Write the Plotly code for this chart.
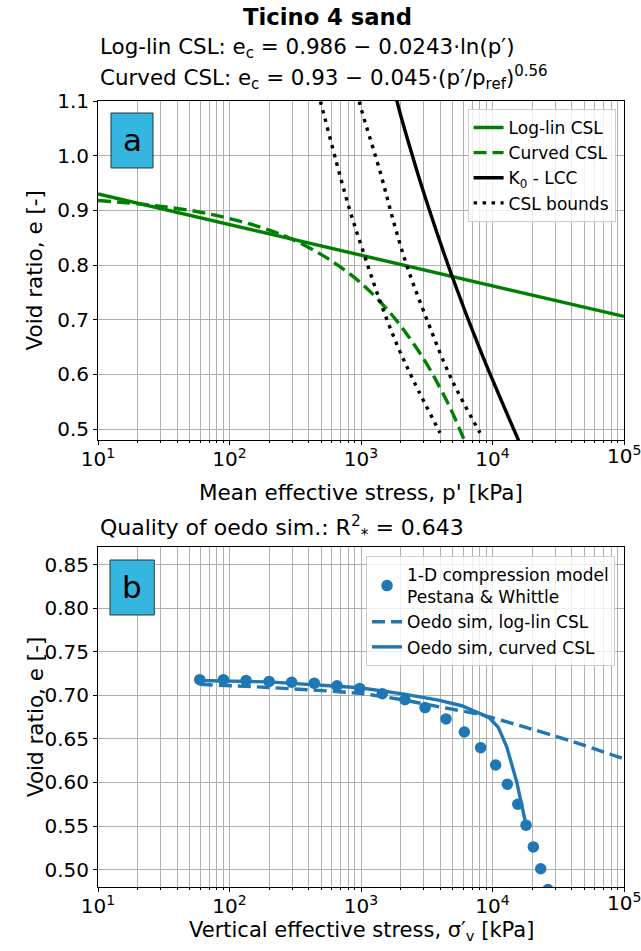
import plotly.graph_objects as go

# ---------------- Panel a data ----------------
p_loglin = [10, 100, 1000, 10000, 100000]
e_loglin = [0.930, 0.874, 0.818, 0.762, 0.706]

p_curved = [10, 20, 50, 100, 200, 300, 500, 700, 1000, 1500, 2000, 3000, 4000, 5000, 6000, 6500]
e_curved = [0.918, 0.912, 0.900, 0.885, 0.864, 0.847, 0.819, 0.796, 0.767, 0.725, 0.689, 0.628,
            0.575, 0.528, 0.484, 0.464]

p_k0 = [1800, 1878, 2404, 3143, 4920, 8110, 15350, 17140]
e_k0 = [1.125, 1.100, 1.008, 0.917, 0.780, 0.643, 0.486, 0.460]

p_bound_lo = [470, 498, 650, 823, 1061, 1400, 1880, 2528, 3990]
e_bound_lo = [1.115, 1.094, 0.988, 0.900, 0.818, 0.733, 0.654, 0.587, 0.493]
p_bound_hi = [940, 982, 1400, 1775, 2244, 3013, 4842, 8040]
e_bound_hi = [1.115, 1.094, 0.970, 0.878, 0.797, 0.714, 0.593, 0.493]

# ---------------- Panel b data ----------------
sv_pw = [59.4, 89.9, 133.7, 200, 297, 442, 657, 977, 1452, 2159, 3070, 4430, 6106, 8130,
         10570, 12970, 15560, 17990, 20430, 23260, 26430]
e_pw = [0.718, 0.718, 0.717, 0.716, 0.715, 0.714, 0.711, 0.708, 0.702, 0.695, 0.686, 0.673,
        0.658, 0.640, 0.620, 0.598, 0.575, 0.551, 0.526, 0.501, 0.477]

sv_sim_loglin = [59.4, 200, 977, 2130, 3870, 8380, 16200, 38800, 100000]
e_sim_loglin = [0.7126, 0.709, 0.7023, 0.6946, 0.687, 0.6774, 0.6652, 0.648, 0.627]

sv_sim_curved = [59.4, 200, 977, 2130, 3870, 5830, 8040, 9500, 11070, 12830, 15280, 17990]
e_sim_curved = [0.717, 0.7155, 0.7088, 0.7015, 0.6946, 0.6881, 0.679, 0.674, 0.6633, 0.641,
                0.6007, 0.5513]

x_ticks = [10, 100, 1000, 10000, 100000]
x_ticktext = ["10<sup>1</sup>", "10<sup>2</sup>", "10<sup>3</sup>", "10<sup>4</sup>", "10<sup>5</sup>"]
ya_ticks = [0.5, 0.6, 0.7, 0.8, 0.9, 1.0, 1.1]
yb_ticks = [0.50, 0.55, 0.60, 0.65, 0.70, 0.75, 0.80, 0.85]

GREEN = "#008000"
BLUE = "#1f77b4"
LW = 3.4
FONT = "DejaVu Sans"
DOT = "3.5px,5.5px"
DASH = "13px,6px"
TICK_STANDOFF = -3

fig = go.Figure()

# Panel a
fig.add_trace(go.Scatter(x=p_loglin, y=e_loglin, mode="lines", name="Log-lin CSL",
                         line=dict(color=GREEN, width=LW), xaxis="x", yaxis="y", legend="legend"))
fig.add_trace(go.Scatter(x=p_curved, y=e_curved, mode="lines", name="Curved CSL",
                         line=dict(color=GREEN, width=LW, dash=DASH, shape="spline"), xaxis="x", yaxis="y",
                         legend="legend"))
fig.add_trace(go.Scatter(x=p_k0, y=e_k0, mode="lines", name="K<sub>0</sub> - LCC",
                         line=dict(color="black", width=LW, shape="spline"), xaxis="x", yaxis="y",
                         legend="legend"))
fig.add_trace(go.Scatter(x=p_bound_lo, y=e_bound_lo, mode="lines", name="CSL bounds",
                         line=dict(color="black", width=LW, dash=DOT, shape="spline"), xaxis="x", yaxis="y",
                         legend="legend"))
fig.add_trace(go.Scatter(x=p_bound_hi, y=e_bound_hi, mode="lines", name="CSL bounds", showlegend=False,
                         line=dict(color="black", width=LW, dash=DOT, shape="spline"), xaxis="x", yaxis="y",
                         legend="legend"))

# Panel b
fig.add_trace(go.Scatter(x=sv_pw, y=e_pw, mode="markers",
                         name="1-D compression model<br>Pestana & Whittle",
                         marker=dict(color=BLUE, size=11.5), xaxis="x2", yaxis="y2", legend="legend2"))
fig.add_trace(go.Scatter(x=sv_sim_loglin, y=e_sim_loglin, mode="lines", name="Oedo sim, log-lin CSL",
                         line=dict(color=BLUE, width=LW, dash=DASH, shape="spline", smoothing=0.6),
                         xaxis="x2", yaxis="y2", legend="legend2"))
fig.add_trace(go.Scatter(x=sv_sim_curved, y=e_sim_curved, mode="lines", name="Oedo sim, curved CSL",
                         line=dict(color=BLUE, width=LW), xaxis="x2", yaxis="y2", legend="legend2"))

GRID = "#b0b0b0"

def xaxis_cfg(anchor):
    # last label drawn as an annotation (it overflows the page edge, as in the reference)
    return dict(type="log", range=[0.99999, 5.00001], tickvals=x_ticks, ticktext=x_ticktext[:-1] + [""],
                ticks="outside", ticklen=4, tickcolor="black", showline=True, linecolor="black",
                linewidth=1, mirror=True, showgrid=True, gridcolor=GRID, gridwidth=0.8,
                minor=dict(dtick="D1", showgrid=True, gridcolor=GRID, gridwidth=0.8, ticks="outside",
                           ticklen=2, tickcolor="black"),
                anchor=anchor, domain=[0, 1], zeroline=False, ticklabelstandoff=TICK_STANDOFF,
                tickfont=dict(size=20))

def yaxis_cfg(anchor, dom, rng, tickvals, fmt):
    return dict(range=rng, domain=dom, anchor=anchor, tickvals=tickvals, tickformat=fmt,
                ticks="outside", ticklen=4, tickcolor="black", showline=True, linecolor="black",
                linewidth=1, mirror=True, showgrid=True, gridcolor=GRID, gridwidth=0.8, zeroline=False,
                tickfont=dict(size=20))

fig.update_layout(
    width=641, height=951,
    margin=dict(l=98, r=17, t=101, b=64),
    paper_bgcolor="white", plot_bgcolor="white",
    font=dict(family=FONT, size=20, color="black"),
    xaxis=xaxis_cfg("y"),
    yaxis=yaxis_cfg("x", [0.5687, 1.0], [0.48, 1.1], ya_ticks, ".1f"),
    xaxis2=xaxis_cfg("y2"),
    yaxis2=yaxis_cfg("x2", [0.0, 0.4322], [0.48, 0.87], yb_ticks, ".2f"),
    legend=dict(x=0.984, y=0.9898, xanchor="right", yanchor="top", xref="paper", yref="paper",
                bgcolor="rgba(255,255,255,0.8)", bordercolor="#cccccc", borderwidth=1,
                font=dict(size=17), tracegroupgap=0),
    legend2=dict(x=0.983, y=0.4211, xanchor="right", yanchor="top", xref="paper", yref="paper",
                 bgcolor="rgba(255,255,255,0.8)", bordercolor="#cccccc", borderwidth=1,
                 font=dict(size=17), tracegroupgap=0),
    showlegend=True,
)

# Last x tick labels (10^5), placed at the tick value
for xr, ydom in [("x", "y domain"), ("x2", "y2 domain")]:
    fig.add_annotation(xref=xr, yref=ydom, x=5, y=0,
                       text=x_ticktext[-1], showarrow=False, xanchor="center", yanchor="top",
                       yshift=-4 - TICK_STANDOFF, font=dict(size=20), borderpad=0)

# Label boxes
BOX = "#35b6e0"
fig.add_shape(type="rect", xref="x domain", yref="y domain", x0=0.0247, x1=0.1046, y0=0.8024, y1=0.9646,
              fillcolor=BOX, line=dict(color="#333333", width=1))
fig.add_annotation(xref="x domain", yref="y domain", x=0.0647, y=0.8835, text="a", showarrow=False,
                   font=dict(size=31, color="black"), xanchor="center", yanchor="middle")
fig.add_shape(type="rect", xref="x2 domain", yref="y2 domain", x0=0.0228, x1=0.107, y0=0.8007, y1=0.9626,
              fillcolor=BOX, line=dict(color="#333333", width=1))
fig.add_annotation(xref="x2 domain", yref="y2 domain", x=0.065, y=0.8817, text="b", showarrow=False,
                   font=dict(size=31, color="black"), xanchor="center", yanchor="middle")

# Axis titles (as annotations for precise placement)
AX_FS = 21.5
fig.add_annotation(xref="paper", yref="y domain", x=0.5, y=-0.156, text="Mean effective stress, p' [kPa]",
                   showarrow=False, xanchor="center", yanchor="middle", font=dict(size=AX_FS))
fig.add_annotation(xref="paper", yref="y2 domain", x=0.5, y=-0.13,
                   text="Vertical effective stress, σ′<sub>v</sub> [kPa]",
                   showarrow=False, xanchor="center", yanchor="middle", font=dict(size=21))
fig.add_annotation(xref="paper", yref="y domain", x=-0.1198, y=0.5, text="Void ratio, e [-]", textangle=-90,
                   showarrow=False, xanchor="center", yanchor="middle", font=dict(size=AX_FS))
fig.add_annotation(xref="paper", yref="y2 domain", x=-0.1198, y=0.5, text="Void ratio, e [-]", textangle=-90,
                   showarrow=False, xanchor="center", yanchor="middle", font=dict(size=AX_FS))

# Titles
T_FS = 21.4
fig.add_annotation(xref="paper", yref="y domain", x=0.436, y=1.248, text="<b>Ticino 4 sand</b>",
                   showarrow=False, xanchor="center", yanchor="middle", font=dict(size=22.7))
fig.add_annotation(xref="paper", yref="y domain", x=0, y=1.156,
                   text="Log-lin CSL: e<sub>c</sub> = 0.986 − 0.0243·ln(p′)",
                   showarrow=False, xanchor="left", yanchor="middle", font=dict(size=T_FS))
fig.add_annotation(xref="paper", yref="y domain", x=0, y=1.068,
                   text="Curved CSL: e<sub>c</sub> = 0.93 − 0.045·(p′/p<sub>ref</sub>)<sup>0.56</sup>",
                   showarrow=False, xanchor="left", yanchor="middle", font=dict(size=T_FS))
fig.add_annotation(xref="paper", yref="y2 domain", x=0, y=1.057,
                   text="Quality of oedo sim.: R<sup>2</sup><sub>*</sub> = 0.643",
                   showarrow=False, xanchor="left", yanchor="middle", font=dict(size=22))

fig.write_html("out.html")
